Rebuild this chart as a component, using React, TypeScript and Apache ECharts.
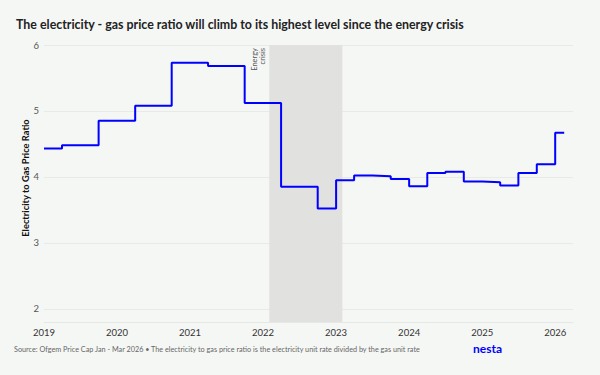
import React, { useEffect, useRef } from "react";
import * as echarts from "echarts";

// Price cap periods (start month) and electricity/gas unit-rate ratio
const periodStarts = [
  "2019-01-01", "2019-04-01", "2019-10-01", "2020-04-01", "2020-10-01",
  "2021-04-01", "2021-10-01", "2022-04-01", "2022-10-01", "2023-01-01",
  "2023-04-01", "2023-07-01", "2023-10-01", "2024-01-01", "2024-04-01",
  "2024-07-01", "2024-10-01", "2025-01-01", "2025-04-01", "2025-07-01",
  "2025-10-01", "2026-01-01",
];
const ratioValues = [
  4.43, 4.48, 4.85, 5.08, 5.73,
  5.68, 5.12, 3.85, 3.52, 3.95,
  4.02, 4.01, 3.97, 3.86, 4.06,
  4.08, 3.93, 3.92, 3.87, 4.06,
  4.19, 4.67,
];
const seriesEnd = "2026-02-15";
const axisStart = "2019-01-01";
const axisEnd = "2026-03-31";
const crisisStart = "2022-02-01";
const crisisEnd = "2023-02-01";
const yTicks = [2, 3, 4, 5, 6];

const TITLE = "The electricity - gas price ratio will climb to its highest level since the energy crisis";
const SOURCE = "Source: Ofgem Price Cap Jan - Mar 2026 \u2022 The electricity to gas price ratio is the electricity unit rate divided by the gas unit rate";
const Y_NAME = "Electricity to Gas Price Ratio";

function toYear(d: string): number {
  const dt = new Date(d + "T00:00:00Z");
  const y = dt.getUTCFullYear();
  const s = Date.UTC(y, 0, 1);
  const e = Date.UTC(y + 1, 0, 1);
  return y + (dt.getTime() - s) / (e - s);
}

const FONT = "Lato, 'Noto Sans', sans-serif";

export default function App() {
  const ref = useRef<HTMLDivElement>(null);
  useEffect(() => {
    if (!ref.current) return;
    const chart = echarts.init(ref.current, undefined, { renderer: "svg" });
    const data: [number, number][] = periodStarts.map((d, i) => [toYear(d), ratioValues[i]]);
    data.push([toYear(seriesEnd), ratioValues[ratioValues.length - 1]]);
    chart.setOption({
      animation: false,
      backgroundColor: "#f5f7f5",
      textStyle: { fontFamily: FONT },
      grid: { left: 44, right: 27, top: 45, bottom: 53, containLabel: false },
      xAxis: {
        type: "value",
        min: toYear(axisStart),
        max: toYear(axisEnd),
        interval: 1,
        axisLine: { show: true, lineStyle: { color: "#e6e8e6", width: 1 } },
        axisTick: { show: false },
        splitLine: { show: false },
        axisLabel: {
          color: "#333",
          fontSize: 9.5,
          fontFamily: FONT,
          margin: 5,
          showMaxLabel: false,
          formatter: (v: number) => (Math.abs(v - Math.round(v)) < 1e-6 ? String(Math.round(v)) : ""),
        },
      },
      yAxis: {
        type: "value",
        min: 1.8,
        max: 6,
        splitNumber: 4,
        axisLine: { show: false },
        axisTick: { show: false },
        axisLabel: {
          color: "#555",
          fontSize: 9.5,
          margin: 5,
          fontFamily: FONT,
          formatter: (v: number) => (yTicks.some((t) => Math.abs(t - v) < 1e-6) ? String(Math.round(v)) : ""),
        },
        splitLine: { show: true, lineStyle: { color: "#e8eae8", width: 1 } },
      },
      series: [
        {
          type: "line",
          step: "end",
          data,
          showSymbol: false,
          lineStyle: { color: "#0000ff", width: 2 },
          itemStyle: { color: "#0000ff" },
          z: 3,
          markArea: {
            silent: true,
            itemStyle: { color: "#e1e2e0" },
            label: { show: false },
            data: [[{ xAxis: toYear(crisisStart) }, { xAxis: toYear(crisisEnd) }]],
          },
        },
      ],
      graphic: [
        {
          type: "text",
          left: 16,
          top: 18,
          style: { text: TITLE, fill: "#222", font: `bold 12.4px ${FONT}` },
        },
        {
          type: "text",
          x: 25,
          y: 178,
          rotation: Math.PI / 2,
          style: {
            text: Y_NAME,
            fill: "#111",
            font: `bold 9.3px ${FONT}`,
            align: "center",
            verticalAlign: "middle",
          },
        },
        {
          type: "text",
          left: 14,
          top: 346,
          style: { text: SOURCE, fill: "#666", font: `7.25px ${FONT}` },
        },
        {
          type: "text",
          left: 473,
          top: 342,
          style: { text: "nesta", fill: "#0000ff", font: `bold 12px ${FONT}` },
        },
        {
          type: "text",
          x: 266,
          y: 48,
          rotation: Math.PI / 2,
          style: {
            text: "Energy\ncrisis",
            fill: "#555",
            font: `7.5px ${FONT}`,
            align: "right",
            verticalAlign: "bottom",
            lineHeight: 8,
          },
        },
      ],
    });
    return () => chart.dispose();
  }, []);
  return (
    <div style={{ position: "fixed", left: 0, top: 0, width: 600, height: 375 }}>
      <div ref={ref} style={{ width: 600, height: 375 }} />
    </div>
  );
}
